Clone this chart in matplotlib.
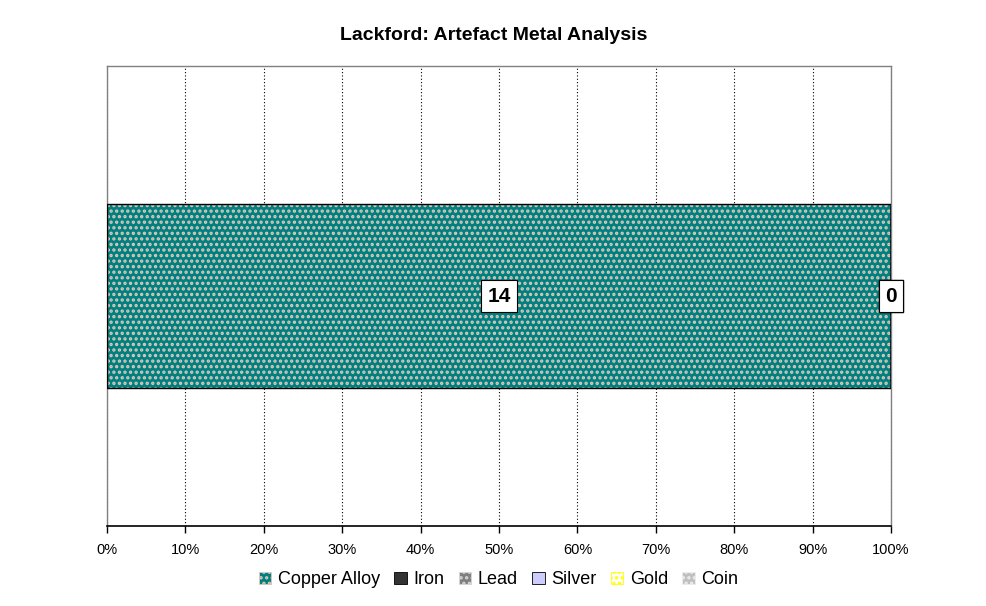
import matplotlib.pyplot as plt
import numpy as np
from matplotlib.patches import Patch
from matplotlib.ticker import PercentFormatter

plt.rcParams['font.family'] = ['Liberation Sans', 'DejaVu Sans']
plt.rcParams['hatch.linewidth'] = 1.6

# data
title = "Lackford: Artefact Metal Analysis"
metals = ["Copper Alloy", "Iron", "Lead", "Silver", "Gold", "Coin"]
counts = [14, 0, 0, 0, 0, 0]
colors = ["#008080", "#333333", "#808080", "#ccccff", "#ffffff", "#c0c0c0"]
hatch_colors = ["#e0c8b8", "#333333", "#d8d8d8", "#ccccff", "#ffff00", "#eeeeee"]
hatches = ["...", None, "...", None, "...", "..."]
ticks = np.arange(0, 101, 10)

total = sum(counts)
shares = [100 * c / total for c in counts]

fig = plt.figure(figsize=(9.87, 6.06), dpi=100)
ax = fig.add_axes([0.1084, 0.132, 0.7943, 0.759])

left = 0
for share, count, col, hc, h in zip(shares, counts, colors, hatch_colors, hatches):
    ax.barh(0, share, left=left, height=0.4, color=col, edgecolor=hc, hatch=h, linewidth=0, zorder=2)
    ax.barh(0, share, left=left, height=0.4, fill=False, edgecolor="black", linewidth=1, zorder=3)
    ax.text(left + share / 2, 0, str(count), ha="center", va="center", fontsize=15, fontweight="bold",
            bbox=dict(boxstyle="square,pad=0.3", facecolor="white", edgecolor="black", linewidth=0.8), zorder=4)
    left += share

ax.set_xlim(0, 100)
ax.set_ylim(-0.5, 0.5)
ax.set_xticks(ticks)
ax.xaxis.set_major_formatter(PercentFormatter(decimals=0))
ax.set_yticks([])
ax.tick_params(axis="x", direction="out", length=5, width=1, labelsize=10.5, pad=7)
ax.grid(axis="x", color="black", linestyle=(0, (1, 2)), linewidth=0.8, zorder=1)
ax.set_axisbelow(True)
for side in ["left", "top", "right"]:
    ax.spines[side].set_color("#808080")
    ax.spines[side].set_linewidth(1)
ax.spines["bottom"].set_color("black")
ax.spines["bottom"].set_linewidth(1.2)

fig.suptitle(title, fontsize=14, fontweight="bold", y=0.955)

handles = [Patch(facecolor=c, edgecolor=hc if h else "black", hatch=h, linewidth=0.6)
           for c, hc, h in zip(colors, hatch_colors, hatches)]
fig.legend(handles, metals, loc="center", bbox_to_anchor=(0.505, 0.043), ncol=6, frameon=False,
           fontsize=13, handlelength=0.7, handleheight=0.7, handletextpad=0.35, columnspacing=0.8)

fig.savefig("out.png", dpi=100)
